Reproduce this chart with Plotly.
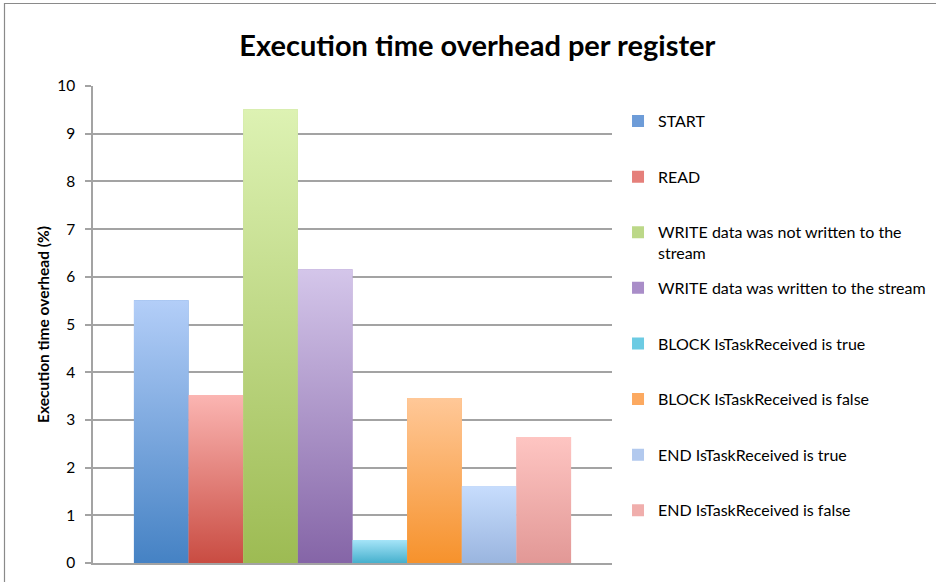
import plotly.graph_objects as go

# Execution time overhead (%) for each register operation
series = [
    "START",
    "READ",
    "WRITE data was not written to the<br>stream",
    "WRITE data was written to the stream",
    "BLOCK IsTaskReceived is true",
    "BLOCK IsTaskReceived is false",
    "END IsTaskReceived is true",
    "END IsTaskReceived is false",
]
values = [5.51, 3.52, 9.51, 6.16, 0.48, 3.46, 1.61, 2.64]

# gradient colours per bar: (bottom, top) plus a swatch colour for the legend
bottom_colors = ["#4582c4", "#c94c42", "#9dbb53", "#8565a7", "#46b0cd", "#f6922c", "#9ab5df", "#e29896"]
top_colors = ["#b3cef8", "#fbb5b2", "#ddf2b3", "#d4c6ea", "#a5e4f8", "#ffc898", "#c7ddfd", "#fec5c2"]
swatch_colors = ["#6d9cd8", "#e57f7a", "#bcd888", "#a98dc8", "#6ccbe3", "#fca960", "#b2c9ee", "#f0aeac"]

FONT = "Lato"
GRID = "#a3a3a3"

fig = go.Figure()

for i, (name, v) in enumerate(zip(series, values)):
    # every label padded to two lines so legend rows are evenly spaced
    label = name if "<br>" in name else name + "<br> "
    fig.add_trace(go.Bar(
        x=[i], y=[v], width=1, name=label,
        marker=dict(color=swatch_colors[i], line=dict(width=0)),
        legendgroup=str(i), hoverinfo="skip",
    ))
    # gradient face of the bar, built from the same value
    fig.add_trace(go.Scatter(
        x=[i - 0.5, i - 0.5, i + 0.5, i + 0.5, i - 0.5],
        y=[0, v, v, 0, 0],
        mode="lines", line=dict(width=0),
        fill="toself",
        fillgradient=dict(type="vertical",
                          colorscale=[[0, bottom_colors[i]], [1, top_colors[i]]]),
        showlegend=False, hoverinfo="skip", legendgroup=str(i),
    ))

fig.update_layout(
    width=936, height=582,
    margin=dict(l=93, r=324, t=86, b=19, autoexpand=False),
    paper_bgcolor="white", plot_bgcolor="white",
    barmode="overlay",
    font=dict(family=FONT, size=16, color="black"),
    title=dict(
        text="<b>Execution time overhead per register</b>",
        font=dict(family=FONT, size=29, color="black"),
        x=0.51, xref="container", xanchor="center",
        y=0.921, yref="container", yanchor="middle",
    ),
    xaxis=dict(
        range=[-1.249, 8.249], showticklabels=False, ticks="",
        showgrid=False, zeroline=False,
        showline=True, linecolor=GRID, linewidth=1.5,
    ),
    yaxis=dict(
        range=[0, 10], dtick=1, tick0=0,
        showgrid=True, gridcolor=GRID, gridwidth=1.5,
        zeroline=False,
        showline=True, linecolor=GRID, linewidth=1.5,
        ticks="outside", ticklen=6, tickcolor=GRID, tickwidth=1.5,
        ticklabelstandoff=7,
        tickfont=dict(family=FONT, size=15.5, color="black"),
        title=dict(text="<b>Execution time overhead (%)</b>",
                   font=dict(family=FONT, size=15.5, color="black"),
                   standoff=4),
    ),
    legend=dict(
        x=1.0116, xanchor="left", y=0.962, yanchor="top",
        traceorder="grouped", tracegroupgap=11, valign="top",
        font=dict(family=FONT, size=16, color="black"),
        bgcolor="rgba(0,0,0,0)",
    ),
    shapes=[dict(
        type="rect", xref="paper", yref="paper",
        x0=(4.5 - 93) / 519, x1=(960 - 93) / 519,
        y0=(563 - 620) / 477, y1=(563 - 3.5) / 477,
        line=dict(color="#8a8a8a", width=1.2), fillcolor="rgba(0,0,0,0)",
        layer="below",
    )],
)

fig.write_html("out.html")
